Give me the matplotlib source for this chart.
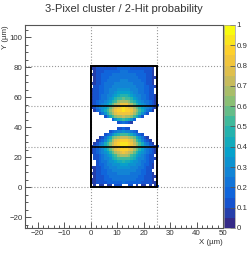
import numpy as np
import matplotlib
matplotlib.use('Agg')
import matplotlib.pyplot as plt
from matplotlib.colors import LinearSegmentedColormap, BoundaryNorm

plt.rcParams['font.family'] = ['Liberation Sans', 'DejaVu Sans']

# probability in percent per bin, 1 um wide columns, rows listed from the top down
# 0 means an empty bin
prob_rows = [
    [0, 8, 8, 0, 0, 9, 9, 0, 0, 10, 10, 0, 11, 12, 0, 0, 10, 10, 0, 9, 9, 0, 0, 8, 0],
    [6, 9, 11, 12, 13, 13, 14, 14, 15, 15, 16, 16, 17, 16, 16, 15, 15, 14, 13, 13, 12, 11, 10, 9, 0],
    [0, 8, 11, 13, 15, 16, 17, 18, 18, 19, 19, 20, 20, 20, 19, 19, 18, 18, 17, 16, 15, 13, 11, 8, 0],
    [5, 9, 12, 14, 16, 17, 18, 19, 20, 20, 21, 21, 22, 21, 21, 20, 20, 19, 18, 17, 16, 14, 12, 9, 0],
    [0, 8, 12, 15, 17, 18, 19, 20, 21, 22, 22, 23, 23, 23, 22, 22, 21, 20, 19, 18, 17, 15, 12, 8, 5],
    [0, 9, 13, 15, 17, 19, 20, 21, 22, 23, 24, 25, 25, 25, 24, 23, 22, 21, 20, 19, 17, 15, 13, 9, 0],
    [6, 9, 13, 15, 18, 20, 21, 23, 24, 25, 26, 27, 27, 27, 26, 25, 24, 23, 21, 20, 18, 15, 13, 9, 0],
    [0, 10, 13, 16, 18, 20, 22, 24, 26, 28, 29, 30, 30, 30, 29, 28, 26, 24, 22, 20, 18, 16, 13, 10, 6],
    [6, 10, 14, 16, 19, 21, 23, 25, 28, 30, 32, 33, 34, 33, 32, 30, 28, 25, 23, 21, 19, 16, 14, 10, 0],
    [7, 10, 14, 17, 19, 22, 24, 27, 30, 33, 36, 38, 39, 38, 36, 33, 30, 27, 24, 22, 19, 17, 14, 10, 0],
    [7, 11, 14, 17, 20, 23, 26, 30, 34, 38, 42, 45, 46, 45, 42, 38, 34, 30, 26, 23, 20, 17, 14, 11, 7],
    [8, 11, 15, 18, 21, 24, 28, 33, 39, 45, 50, 54, 55, 54, 50, 45, 39, 33, 28, 24, 21, 18, 15, 11, 8],
    [8, 12, 16, 20, 23, 27, 32, 39, 47, 54, 61, 66, 68, 66, 61, 54, 47, 39, 32, 27, 23, 20, 16, 12, 8],
    [8, 13, 18, 22, 26, 32, 39, 48, 57, 66, 74, 80, 82, 80, 74, 66, 57, 48, 39, 32, 26, 22, 18, 13, 8],
    [7, 14, 20, 26, 32, 39, 48, 58, 68, 77, 84, 89, 90, 89, 84, 77, 68, 58, 48, 39, 32, 26, 20, 14, 7],
    [0, 6, 16, 24, 31, 40, 50, 61, 72, 80, 86, 89, 90, 89, 86, 80, 72, 61, 50, 40, 31, 24, 16, 6, 0],
    [0, 0, 0, 10, 22, 34, 47, 58, 68, 76, 81, 84, 85, 84, 81, 76, 68, 58, 47, 34, 22, 10, 0, 0, 0],
    [0, 0, 0, 0, 0, 12, 28, 42, 54, 62, 67, 70, 71, 70, 67, 62, 54, 42, 28, 12, 0, 0, 0, 0, 0],
    [0, 0, 0, 0, 0, 0, 0, 0, 16, 32, 42, 48, 50, 48, 42, 32, 16, 0, 0, 0, 0, 0, 0, 0, 0],
    [0, 0, 0, 0, 0, 0, 0, 0, 0, 0, 12, 18, 22, 18, 12, 8, 0, 0, 0, 0, 0, 0, 0, 0, 0],
    [0, 0, 0, 0, 0, 0, 0, 0, 0, 0, 0, 0, 0, 0, 0, 0, 0, 0, 0, 0, 0, 0, 0, 0, 0],
    [0, 0, 0, 0, 0, 0, 0, 0, 0, 0, 10, 14, 16, 14, 10, 0, 0, 0, 0, 0, 0, 0, 0, 0, 0],
    [0, 0, 0, 0, 0, 0, 0, 10, 16, 22, 28, 30, 32, 30, 28, 22, 16, 10, 0, 0, 0, 0, 0, 0, 0],
    [0, 0, 0, 0, 0, 10, 16, 24, 32, 40, 46, 50, 52, 50, 46, 40, 32, 24, 16, 10, 0, 0, 0, 0, 0],
    [0, 0, 0, 8, 14, 22, 32, 44, 56, 64, 70, 73, 74, 73, 70, 64, 56, 44, 32, 22, 14, 8, 0, 0, 0],
    [0, 0, 6, 10, 18, 28, 40, 54, 66, 76, 82, 86, 87, 86, 82, 76, 66, 54, 40, 28, 18, 10, 6, 0, 0],
    [0, 8, 14, 22, 30, 40, 52, 64, 74, 82, 88, 90, 91, 90, 88, 82, 74, 64, 52, 40, 30, 22, 14, 8, 0],
    [7, 12, 18, 25, 32, 42, 52, 64, 75, 84, 89, 91, 92, 91, 89, 84, 75, 64, 52, 42, 32, 25, 18, 12, 7],
    [7, 12, 18, 23, 29, 36, 45, 55, 66, 76, 84, 88, 89, 88, 84, 76, 66, 55, 45, 36, 29, 23, 18, 12, 7],
    [7, 11, 16, 21, 26, 32, 38, 46, 56, 65, 73, 78, 80, 78, 73, 65, 56, 46, 38, 32, 26, 21, 16, 11, 7],
    [0, 11, 15, 19, 24, 28, 33, 39, 46, 54, 61, 65, 67, 65, 61, 54, 46, 39, 33, 28, 24, 19, 15, 11, 0],
    [0, 10, 14, 18, 22, 26, 30, 35, 40, 46, 50, 53, 54, 53, 50, 46, 40, 35, 30, 26, 22, 18, 14, 10, 6],
    [0, 0, 13, 17, 20, 24, 27, 31, 35, 38, 42, 44, 45, 44, 42, 38, 35, 31, 27, 24, 20, 17, 13, 10, 0],
    [0, 0, 12, 16, 19, 22, 25, 28, 31, 33, 35, 37, 37, 37, 35, 33, 31, 28, 25, 22, 19, 16, 12, 9, 0],
    [6, 9, 12, 15, 18, 20, 23, 25, 27, 29, 31, 32, 32, 32, 31, 29, 27, 25, 23, 20, 18, 15, 12, 9, 0],
    [0, 9, 12, 15, 17, 19, 21, 23, 25, 26, 27, 28, 28, 28, 27, 26, 25, 23, 21, 19, 17, 15, 12, 0, 0],
    [5, 9, 12, 14, 16, 18, 20, 21, 23, 24, 25, 25, 26, 25, 25, 24, 23, 21, 20, 18, 16, 14, 12, 9, 0],
    [0, 8, 11, 13, 15, 17, 18, 20, 21, 22, 23, 23, 24, 23, 23, 22, 21, 20, 18, 17, 15, 13, 11, 8, 6],
    [6, 8, 11, 13, 15, 16, 17, 18, 20, 20, 21, 21, 22, 21, 21, 20, 20, 18, 17, 16, 15, 13, 11, 8, 0],
    [5, 8, 10, 12, 14, 15, 16, 17, 18, 18, 19, 19, 20, 19, 19, 18, 18, 17, 16, 15, 14, 12, 10, 8, 5],
    [0, 5, 0, 6, 7, 0, 8, 9, 0, 10, 10, 11, 0, 0, 10, 10, 0, 9, 0, 8, 7, 0, 6, 0, 5],
]

# the lone bins just right of the cell
speck_x = [25.5, 25.5, 25.5]
speck_y = [54.5, 27.5, 0.5]
speck_val = [0.12, 0.12, 0.12]

pixel_x = [0, 25]
pixel_y = [0, 27, 54, 81]

# ROOT kBird palette
bird = [(0.2082, 0.1664, 0.5293), (0.0592, 0.3599, 0.8684), (0.0780, 0.5041, 0.8385),
        (0.0232, 0.6419, 0.7914), (0.1802, 0.7178, 0.6425), (0.5301, 0.7492, 0.4662),
        (0.8186, 0.7328, 0.3499), (0.9956, 0.7862, 0.1968), (0.9764, 0.9832, 0.0539)]
cmap = LinearSegmentedColormap.from_list('bird', bird, N=256)
levels = np.linspace(0, 1, 21)
norm = BoundaryNorm(levels, cmap.N)
grey = '#555555'
font_size = 5.7

fig = plt.figure(figsize=(2.48, 2.54), dpi=100)
ax = fig.add_axes([24.5 / 248, 1 - 228 / 254, 198.5 / 248, 203 / 254])

z = np.array(prob_rows[::-1], dtype=float) / 100
z = np.ma.masked_where(z == 0, z)
xedges = np.arange(0, 26)
yedges = np.append(np.arange(0, 81, 2), 81)
mesh = ax.pcolormesh(xedges, yedges, z, cmap=cmap, norm=norm, rasterized=True)
ax.scatter(speck_x, speck_y, c=speck_val, cmap=cmap, norm=norm, s=3, marker='s', linewidths=0, clip_on=False)

for x in pixel_x:
    ax.axvline(x, color='#999999', ls=':', lw=0.8, zorder=1)
for y in pixel_y:
    ax.axhline(y, color='#999999', ls=':', lw=0.8, zorder=1)

ax.plot([0, 25, 25, 0, 0], [0, 0, 81, 81, 0], color='black', lw=1.4, zorder=5, solid_joinstyle='miter')
ax.plot([0, 25], [27, 27], color='black', lw=1.2, zorder=5)
ax.plot([0, 25], [54, 54], color='black', lw=1.2, zorder=5)

ax.set_xlim(-25, 50)
ax.set_ylim(-27, 108)
ax.set_xticks(np.arange(-20, 51, 10))
ax.set_xticks(np.arange(-24, 51, 2), minor=True)
ax.set_yticks(np.arange(-20, 101, 20))
ax.set_yticks(np.arange(-25, 108, 5), minor=True)
ax.set_xticklabels(['\u221220', '\u221210', '0', '10', '20', '30', '40', '50'])
ax.set_yticklabels(['\u221220', '0', '20', '40', '60', '80', '100'])
ax.tick_params(which='major', direction='in', length=4.3, width=0.7, color=grey, labelcolor='#333333', labelsize=font_size, pad=1.5)
ax.tick_params(which='minor', direction='in', length=2.2, width=0.7, color=grey)
for s in ax.spines.values():
    s.set_linewidth(0.8)
    s.set_color(grey)

fig.text(124 / 248, 1 - 8.5 / 254, '3-Pixel cluster / 2-Hit probability', ha='center', va='center', fontsize=8.05, color='#333333')
fig.text(223 / 248, 1 - 242.5 / 254, 'X (\u00b5m)', ha='right', va='center', fontsize=font_size, color='#333333')
fig.text(5.5 / 248, 1 - 37 / 254, 'Y (\u00b5m)', rotation=90, ha='center', va='center', fontsize=font_size, color='#333333')

cax = fig.add_axes([224 / 248, 1 - 228 / 254, 11 / 248, 203 / 254])
cb = fig.colorbar(mesh, cax=cax, ticks=np.arange(0, 1.01, 0.1), spacing='proportional', drawedges=False)
cb.ax.set_yticklabels(['0', '0.1', '0.2', '0.3', '0.4', '0.5', '0.6', '0.7', '0.8', '0.9', '1'])
cb.ax.tick_params(direction='in', length=3.5, width=0.6, color=grey, labelcolor='#333333', labelsize=font_size, pad=1)
cb.ax.minorticks_off()
cb.outline.set_linewidth(0.5)
cb.outline.set_edgecolor('#999999')

fig.savefig('out.png', dpi=100)
